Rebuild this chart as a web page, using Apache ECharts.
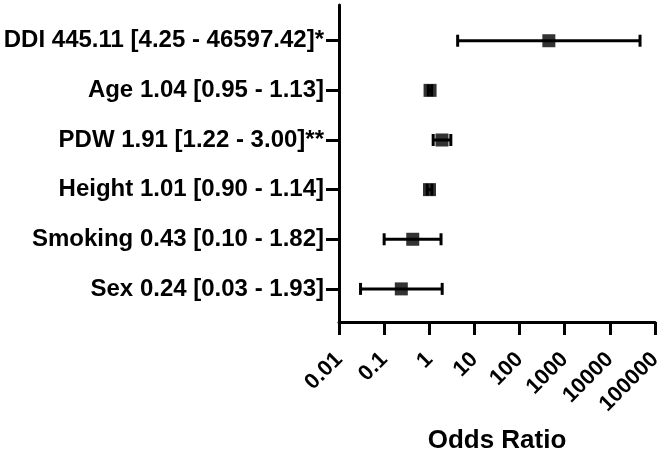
<!DOCTYPE html>
<html>
<head>
<meta charset="utf-8">
<script src="https://cdn.jsdelivr.net/npm/echarts@6/dist/echarts.min.js"></script>
<style>
html,body{margin:0;padding:0;background:#fff;}
#chart{width:668px;height:459px;}
</style>
</head>
<body>
<div id="chart"></div>
<script>
// Data (bottom to top)
const categories = [
  'Sex 0.24 [0.03 - 1.93]',
  'Smoking 0.43 [0.10 - 1.82]',
  'Height 1.01 [0.90 - 1.14]',
  'PDW 1.91 [1.22 - 3.00]**',
  'Age 1.04 [0.95 - 1.13]',
  'DDI 445.11 [4.25 - 46597.42]*'
];
const oddsRatio = [0.24, 0.43, 1.01, 1.91, 1.04, 445.11];
const ciLow = [0.03, 0.10, 0.90, 1.22, 0.95, 4.25];
const ciHigh = [1.93, 1.82, 1.14, 3.00, 1.13, 46597.42];
const tickLabels = ['0.01', '0.1', '1', '10', '100', '1000', '10000', '100000'];
const rowPositions = [1, 2, 3, 4, 5, 6];

const FONT = "'Liberation Sans', Arial, Helvetica, sans-serif";
const chart = echarts.init(document.getElementById('chart'), null, {renderer: 'canvas'});

const errData = categories.map((c, i) => [ciLow[i], ciHigh[i], rowPositions[i]]);
const pointData = categories.map((c, i) => [oddsRatio[i], rowPositions[i]]);

function renderErr(params, api) {
  const lo = api.value(0), hi = api.value(1), y = api.value(2);
  const p1 = api.coord([lo, y]);
  const p2 = api.coord([hi, y]);
  const cap = 6;
  const st = {stroke: '#000', lineWidth: 3};
  return {
    type: 'group',
    children: [
      {type: 'line', shape: {x1: p1[0], y1: p1[1], x2: p2[0], y2: p2[1]}, style: st},
      {type: 'line', shape: {x1: p1[0], y1: p1[1] - cap, x2: p1[0], y2: p1[1] + cap}, style: st},
      {type: 'line', shape: {x1: p2[0], y1: p2[1] - cap, x2: p2[0], y2: p2[1] + cap}, style: st}
    ]
  };
}

chart.setOption({
  animation: false,
  backgroundColor: '#fff',
  grid: {left: 339, right: 13, top: 5, bottom: 135, containLabel: false},
  xAxis: {
    type: 'log',
    logBase: 10,
    min: 0.01,
    max: 100000,
    name: 'Odds Ratio',
    nameLocation: 'middle',
    nameGap: 106,
    nameTextStyle: {fontFamily: FONT, fontWeight: 'bold', fontSize: 26, color: '#000'},
    axisLine: {show: true, onZero: false, lineStyle: {color: '#000', width: 3}},
    axisTick: {show: true, length: 13, lineStyle: {color: '#000', width: 3}},
    axisLabel: {
      rotate: 45,
      margin: 34,
      fontFamily: FONT,
      fontWeight: 'bold',
      fontSize: 22,
      color: '#000',
      formatter: v => tickLabels[Math.round(Math.log10(v)) + 2]
    },
    splitLine: {show: false}
  },
  yAxis: {
    type: 'value',
    min: 0.333,
    max: 6.72,
    axisLine: {show: true, onZero: false, lineStyle: {color: '#000', width: 3}},
    axisTick: {show: true, length: 13, customValues: rowPositions, lineStyle: {color: '#000', width: 3}},
    axisLabel: {
      customValues: rowPositions,
      margin: 15,
      fontFamily: FONT,
      fontWeight: 'bold',
      fontSize: 24,
      color: '#000',
      formatter: v => categories[Math.round(v) - 1]
    },
    splitLine: {show: false}
  },
  series: [
    {
      type: 'custom',
      renderItem: renderErr,
      data: errData,
      encode: {x: [0, 1], y: 2},
      z: 2
    },
    {
      type: 'scatter',
      data: pointData,
      symbol: 'rect',
      symbolSize: 13,
      itemStyle: {color: '#000'},
      z: 3
    }
  ]
});
</script>
</body>
</html>
